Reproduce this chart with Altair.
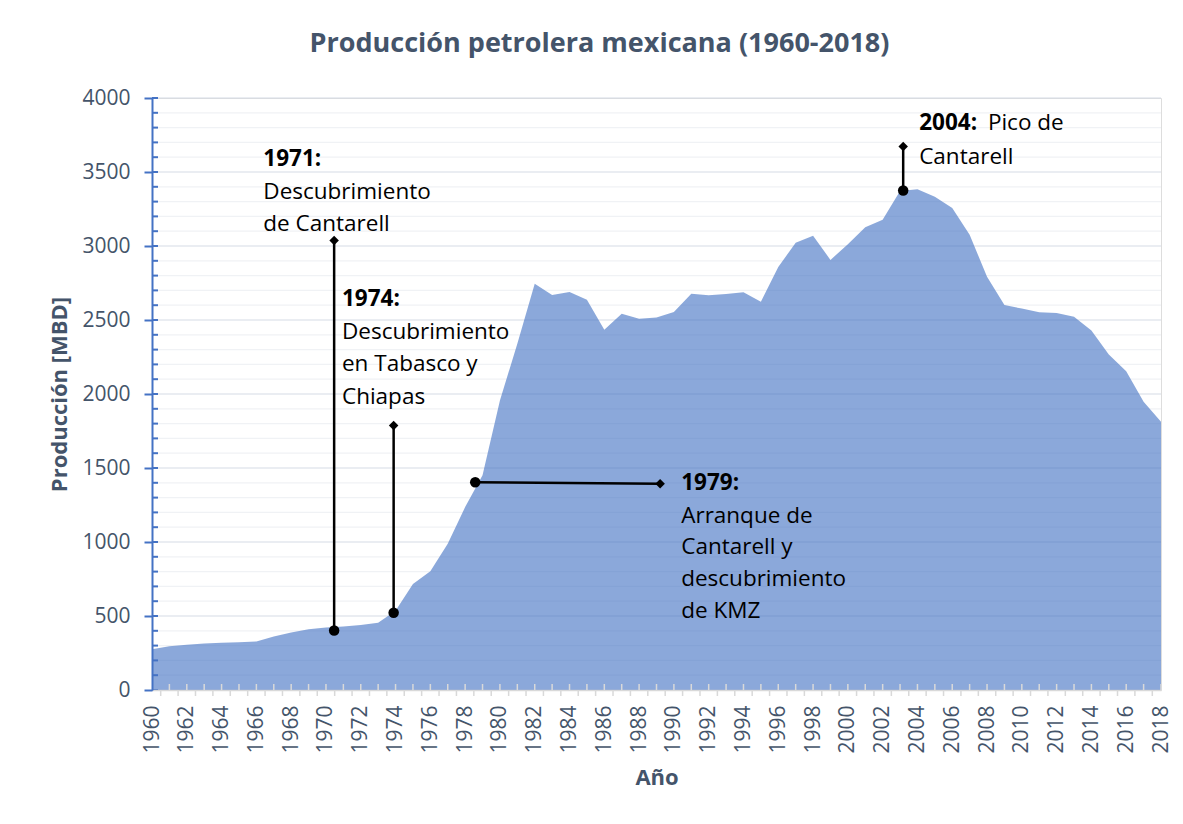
import altair as alt
import pandas as pd

# ---------------- data ----------------
years = list(range(1960, 2019))
production = [276, 296, 305, 314, 319, 323, 328, 361, 389, 411,
              423, 429, 440, 454, 535, 716, 802, 988, 1236, 1451,
              1956, 2340, 2745, 2669, 2689, 2637, 2434, 2542, 2508, 2517,
              2554, 2678, 2667, 2676, 2687, 2624, 2858, 3022, 3070, 2906,
              3012, 3127, 3177, 3371, 3383, 3333, 3256, 3076, 2792, 2601,
              2577, 2553, 2548, 2522, 2429, 2267, 2154, 1948, 1813]

y_ticks = list(range(0, 4001, 500))
y_minor = list(range(0, 4001, 100))
x_labels = list(range(1960, 2019, 2))
x_inner = list(range(1961, 2019))
x_outer = [y + 0.5 for y in range(1960, 2018)]

# annotation connector lines (dot end -> diamond end)
ann_x_dot = [1970.47, 1973.89, 1978.58, 2003.18]
ann_y_dot = [402, 522, 1404, 3375]
ann_x_dia = [1970.47, 1973.89, 1989.21, 2003.18]
ann_y_dia = [3037, 1787, 1393, 3672]

# annotation texts
bold_text = ["1971:", "1974:", "1979:", "2004:"]
bold_x = [1966.40, 1970.92, 1990.42, 2004.10]
bold_y = [3591, 2645, 1402, 3828]

reg_text = ["Descubrimiento", "de Cantarell",
            "Descubrimiento", "en Tabasco y", "Chiapas",
            "Arranque de", "Cantarell y", "descubrimiento", "de KMZ",
            "Pico de", "Cantarell"]
reg_x = [1966.40, 1966.40,
         1970.92, 1970.92, 1970.92,
         1990.42, 1990.42, 1990.42, 1990.42,
         2008.05, 2004.10]
reg_y = [3368, 3152,
         2422, 2206, 1983,
         1179, 963, 753, 537,
         3828, 3598]

# ---------------- tables ----------------
df = pd.DataFrame({"Año": years, "Producción": production})
grid_df = pd.DataFrame({"v": y_minor, "major": [v % 500 == 0 for v in y_minor]})
xin_df = pd.DataFrame({"yr": x_inner})
xout_df = pd.DataFrame({"yr": x_outer})
seg_df = pd.DataFrame({"x": ann_x_dot, "y": ann_y_dot, "x2": ann_x_dia, "y2": ann_y_dia})
bold_df = pd.DataFrame({"t": bold_text, "x": bold_x, "y": bold_y})
reg_df = pd.DataFrame({"t": reg_text, "x": reg_x, "y": reg_y})

W, H = 1009, 592
FONT = "Open Sans"
SLATE = "#44546A"
BLUE = "#4472C4"

xscale = alt.Scale(domain=[1960, 2018], nice=False, zero=False)
yscale = alt.Scale(domain=[0, 4000], nice=False)

xaxis = alt.Axis(values=x_labels, format="d",
                 labelAngle=270, labelFontSize=21, labelColor=SLATE,
                 labelFont=FONT, labelPadding=15, labelFlush=False,
                 labelOverlap=False, labelBound=False,
                 domainColor="#D9D9D9", domainWidth=1.5,
                 ticks=False, grid=False,
                 title="Año", titleFont=FONT, titleFontSize=22,
                 titleFontWeight="bold", titleColor=SLATE,
                 titlePadding=14, zindex=1)

yaxis = alt.Axis(values=y_ticks, format="d", labelFontSize=21,
                 labelColor=SLATE, labelFont=FONT, labelPadding=14,
                 labelOverlap=False,
                 domainColor=BLUE, domainWidth=2,
                 tickColor=BLUE, tickSize=8, tickWidth=2, grid=False,
                 title="Producción [MBD]", titleFont=FONT,
                 titleFontSize=22, titleFontWeight="bold",
                 titleColor=SLATE, titlePadding=10, zindex=1)


def X(field):
    return alt.X(field, scale=xscale, axis=xaxis, title="Año")


def Y(field):
    return alt.Y(field, scale=yscale, axis=yaxis, title="Producción [MBD]")


grid = alt.Chart(grid_df).mark_rule(strokeWidth=1.2).encode(
    y=Y("v:Q"),
    color=alt.condition("datum.major", alt.value("#D6DCE5"), alt.value("#F0F2F5")),
)

area = alt.Chart(df).mark_area(color=BLUE, opacity=0.62).encode(
    x=X("Año:Q"), y=Y("Producción:Q"),
)

y_inner_ticks = alt.Chart(grid_df).mark_rule(color=BLUE, strokeWidth=2).encode(
    y=Y("v:Q"), x=alt.value(0), x2=alt.value(6),
)

x_inner_ticks = alt.Chart(xin_df).mark_rule(color="#D9D9D9", strokeWidth=1.5).encode(
    x=X("yr:Q"), y=alt.value(H), y2=alt.value(H - 6),
)

x_outer_ticks = alt.Chart(xout_df).mark_rule(color="#D9D9D9", strokeWidth=1.5).encode(
    x=X("yr:Q"), y=alt.value(H), y2=alt.value(H + 6),
)

segs = alt.Chart(seg_df).mark_rule(color="black", strokeWidth=2.5).encode(
    x=X("x:Q"), y=Y("y:Q"), x2="x2:Q", y2="y2:Q",
)

dots = alt.Chart(seg_df).mark_point(shape="circle", filled=True, color="black",
                                    size=110, opacity=1).encode(
    x=X("x:Q"), y=Y("y:Q"),
)

diamonds = alt.Chart(seg_df).mark_point(shape="diamond", filled=True, color="black",
                                        size=90, opacity=1).encode(
    x=X("x2:Q"), y=Y("y2:Q"),
)

bold_txt = alt.Chart(bold_df).mark_text(align="left", baseline="middle", font=FONT,
                                         fontSize=22.5, fontWeight="bold",
                                         color="black").encode(
    x=X("x:Q"), y=Y("y:Q"), text="t:N",
)

reg_txt = alt.Chart(reg_df).mark_text(align="left", baseline="middle", font=FONT,
                                       fontSize=22.5, color="black").encode(
    x=X("x:Q"), y=Y("y:Q"), text="t:N",
)

chart = alt.layer(
    grid, area, y_inner_ticks, x_inner_ticks, x_outer_ticks,
    segs, dots, diamonds, bold_txt, reg_txt
).properties(
    width=W, height=H,
    title=alt.TitleParams("Producción petrolera mexicana (1960-2018)",
                          font=FONT, fontSize=27, fontWeight="bold", color=SLATE,
                          anchor="middle", offset=29, dx=-57),
    autosize=alt.AutoSizeParams(type="none"),
    padding={"left": 144, "top": 90, "right": 14, "bottom": 118},
).configure_view(stroke=None).configure(background="white")

chart.save("out.html", embed_options={"renderer": "svg", "actions": False})
